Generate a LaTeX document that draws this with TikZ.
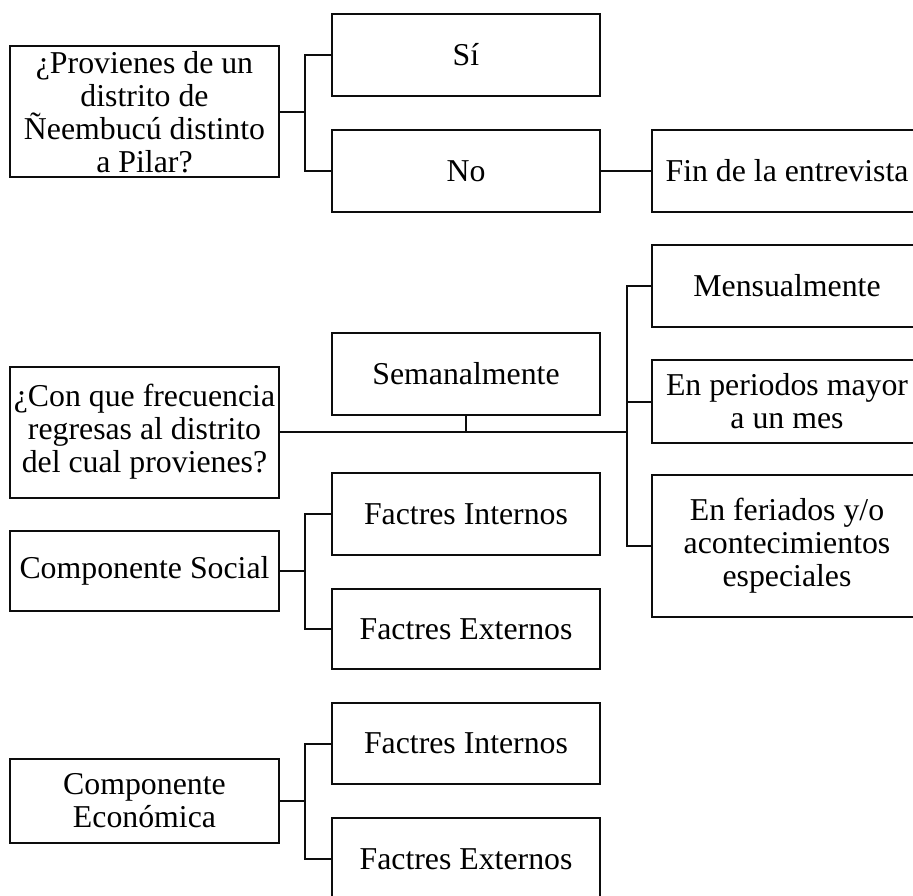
\documentclass[tikz,border=0pt]{standalone}
\usepackage{fontspec}
\setmainfont{Liberation Serif}
\definecolor{LineClr}{rgb}{0.05,0.05,0.05}

\tikzset{
  caja/.style={draw=LineClr,line width=2pt,inner sep=0pt,align=center,
    font=\fontsize{31.8}{33}\selectfont},
  liga/.style={draw=LineClr,line width=2pt}
}

\begin{document}
\begin{tikzpicture}[x=1pt,y=-1pt]
\clip (0,0) rectangle (913,896);
\useasboundingbox (0,0) rectangle (913,896);

% first question
\node[caja,minimum width=269pt,minimum height=131pt] (q1) at (144.5,112) {¿Provienes de un\\distrito de\\Ñeembucú distinto\\a Pilar?};
\node[caja,minimum width=268pt,minimum height=82pt] (si) at (466,55) {Sí};
\node[caja,minimum width=268pt,minimum height=82pt] (no) at (466,171) {No};
\node[caja,minimum width=270pt,minimum height=82pt] (fin) at (787,171) {Fin de la entrevista};

\coordinate (j1) at (305,112);
\draw[liga] (q1.east) -- (j1);
\draw[liga] (si.west) -| (j1) |- (no.west);
\draw[liga] (no.east) -- (fin.west);

% second question
\node[caja,minimum width=269pt,minimum height=131pt] (q2) at (144.5,432) {¿Con que frecuencia\\regresas al distrito\\del cual provienes?};
\node[caja,minimum width=268pt,minimum height=82pt] (sem) at (466,374) {Semanalmente};
\node[caja,minimum width=270pt,minimum height=82pt] (men) at (787,286) {Mensualmente};
\node[caja,minimum width=270pt,minimum height=83pt] (per) at (787,401.5) {En periodos mayor\\a un mes};
\node[caja,minimum width=270pt,minimum height=142pt] (fer) at (787,546) {En feriados y/o\\acontecimientos\\especiales};

\coordinate (j2) at (627,432);
\draw[liga] (q2.east) -- (j2);
\draw[liga] (sem.south) -- (sem.south |- j2);
\draw[liga] (men.west) -| (j2) |- (fer.west);
\draw[liga] (per.west) -- (per.west -| j2);

% componente social
\node[caja,minimum width=269pt,minimum height=80pt] (cs) at (144.5,571) {Componente Social};
\node[caja,minimum width=268pt,minimum height=82pt] (fi1) at (466,514) {Factres Internos};
\node[caja,minimum width=268pt,minimum height=80pt] (fe1) at (466,629) {Factres Externos};

\coordinate (j3) at (305,571);
\draw[liga] (cs.east) -- (j3);
\draw[liga] (fi1.west) -| (j3) |- (fe1.west);

% componente economica
\node[caja,minimum width=269pt,minimum height=84pt] (ce) at (144.5,801) {Componente\\Económica};
\node[caja,minimum width=268pt,minimum height=81pt] (fi2) at (466,743.5) {Factres Internos};
\node[caja,minimum width=268pt,minimum height=82pt] (fe2) at (466,859) {Factres Externos};

\coordinate (j4) at (305,801);
\draw[liga] (ce.east) -- (j4);
\draw[liga] (fi2.west) -| (j4) |- (fe2.west);

\end{tikzpicture}
\end{document}
